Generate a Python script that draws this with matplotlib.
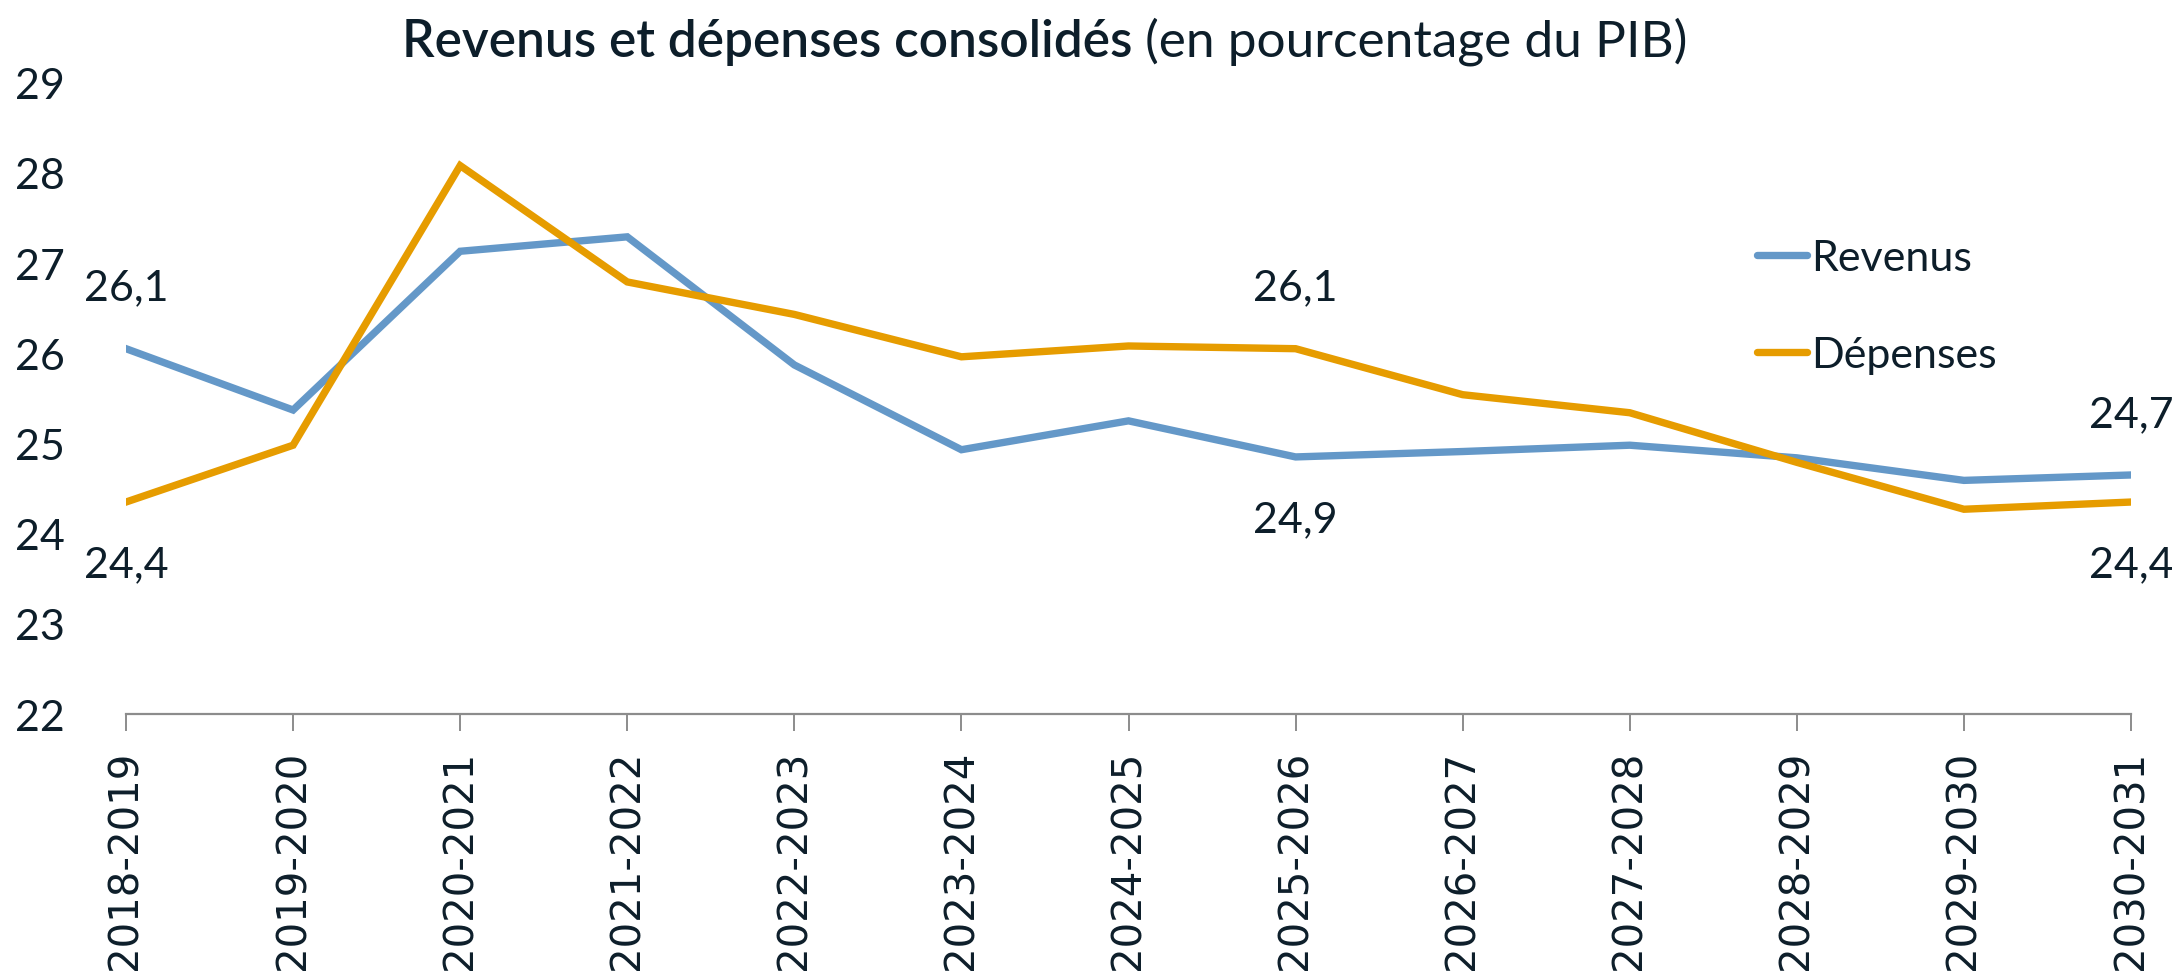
import matplotlib
matplotlib.use('Agg')
import matplotlib.pyplot as plt
from decimal import Decimal, ROUND_HALF_UP

# Data
years = ['2018-2019', '2019-2020', '2020-2021', '2021-2022', '2022-2023', '2023-2024',
         '2024-2025', '2025-2026', '2026-2027', '2027-2028', '2028-2029', '2029-2030', '2030-2031']
revenus = [26.05, 25.37, 27.13, 27.29, 25.87, 24.93, 25.25, 24.85, 24.91, 24.98, 24.84, 24.59, 24.65]
depenses = [24.35, 24.98, 28.08, 26.79, 26.43, 25.96, 26.08, 26.05, 25.54, 25.34, 24.79, 24.27, 24.35]
label_idx = [0, 7, 12]

blue = '#6498c8'
orange = '#e69c00'
txt = '#0d1e2a'
grey = '#8c8c8c'


def fmt(v):
    # Excel style rounding, decimal comma
    d = Decimal(str(v)).quantize(Decimal('0.1'), rounding=ROUND_HALF_UP)
    return str(d).replace('.', ',')


fig = plt.figure(figsize=(21.72, 9.79), dpi=100, facecolor='white')
ax = fig.add_axes([126/2172, 1-715/979, (2131-126)/2172, (715-83.6)/979])

x = list(range(len(years)))
ax.plot(x, revenus, color=blue, linewidth=5.3, solid_joinstyle='miter', label='Revenus')
ax.plot(x, depenses, color=orange, linewidth=5.3, solid_joinstyle='miter', label='Dépenses')

# data labels: higher line above, lower line below
for i in label_idx:
    for vals, other in ((revenus, depenses), (depenses, revenus)):
        up = vals[i] >= other[i]
        ax.annotate(fmt(vals[i]), (i, vals[i]), xytext=(0, 44 if up else -45), textcoords='offset points',
                    ha='center', va='center', fontsize=31, family='Lato', color=txt)

ax.set_xlim(0, len(years)-1)
ax.set_ylim(22, 29)
ax.set_yticks(range(22, 30))
ax.set_xticks(x)
ax.set_xticklabels(years, rotation=90, family='DejaVu Sans', fontsize=29, color=txt)
for lab in ax.get_yticklabels():
    lab.set_family('Lato')
    lab.set_fontsize(31)
    lab.set_color(txt)
ax.tick_params(axis='y', length=0, pad=44)
ax.tick_params(axis='x', length=12, width=1.4, color=grey, pad=14)

for s in ['left', 'right', 'top']:
    ax.spines[s].set_visible(False)
ax.spines['bottom'].set_color(grey)
ax.spines['bottom'].set_linewidth(1.6)

leg = ax.legend(loc='upper left', bbox_to_anchor=(1757/2172, 1-240/979), bbox_transform=fig.transFigure,
                frameon=False, prop={'family': 'Lato', 'size': 31}, handlelength=1.15,
                handletextpad=0.1, labelspacing=1.38, borderpad=0, borderaxespad=0)
for t in leg.get_texts():
    t.set_color(txt)
for h in leg.get_lines():
    h.set_solid_capstyle('round')

# title in two weights
t1 = fig.text(402/2172, 1-57/979, 'Revenus et dépenses consolidés', fontsize=37, family='Lato',
              weight='semibold', color=txt, ha='left', va='baseline')
ax.annotate(' (en pourcentage du PIB)', xy=(1, 0), xycoords=t1, fontsize=37, family='Lato',
            weight='normal', color=txt, ha='left', va='bottom', annotation_clip=False)

fig.savefig('out.png', dpi=100, facecolor='white')
